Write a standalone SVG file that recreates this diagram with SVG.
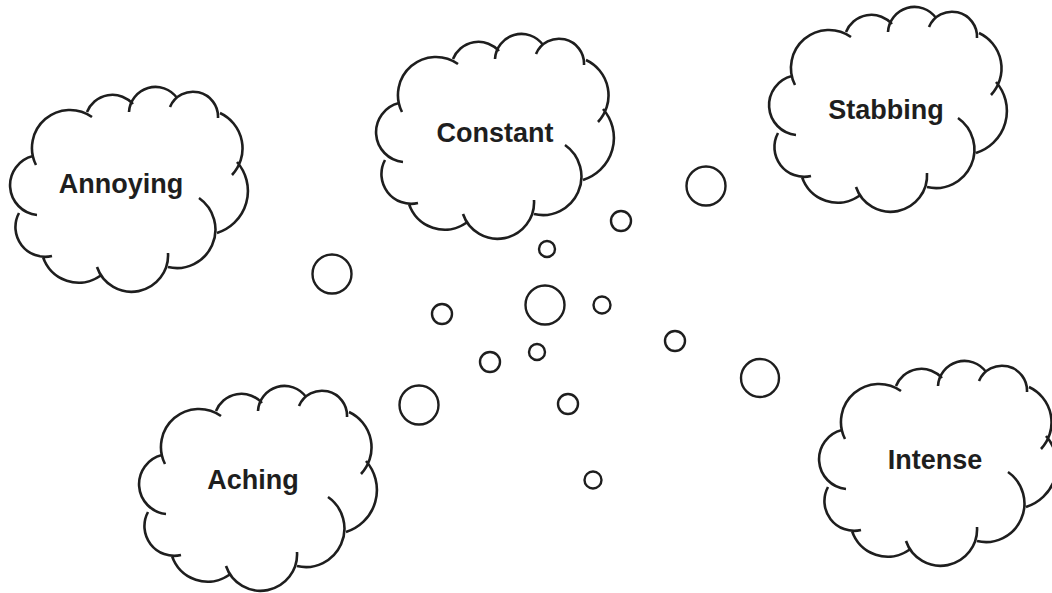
<svg xmlns="http://www.w3.org/2000/svg" width="1052" height="593" viewBox="0 0 1052 593">
<style>
.cl{fill:none;stroke:#1e1e1e;stroke-width:2.6;stroke-linecap:butt}
.bub{fill:none;stroke:#1e1e1e;stroke-width:2.4}
.lbl{font-family:"Liberation Sans",Arial,sans-serif;font-weight:bold;font-size:27px;fill:#1e1e1e;text-anchor:middle}
</style>
<defs>
<path id="cloud" class="cl" d="M36,165 A38,38 0 0 1 92,117 M87,112 A27.5,27.5 0 0 1 133,104 M129,112 A26.5,26.5 0 0 1 177,98 M170,107 A25,25 0 0 1 218,118 M220,113 A39,39 0 0 1 232,175 M237,162 A44,44 0 0 1 217,233 M199,198 A38.5,38.5 0 0 1 168,267 M168,253 A36.5,36.5 0 0 1 97,267 M100,276 A37.5,37.5 0 0 1 43,257 M52,256 A29.7,29.7 0 0 1 19,213 M37,215 A30,30 0 0 1 33,156"/>
</defs>
<rect width="1052" height="593" fill="#ffffff"/>
<g id="annoying">
<use href="#cloud"/>
<text class="lbl" x="121" y="193">Annoying</text>
</g>
<g id="constant">
<use href="#cloud" transform="translate(366,-53)"/>
<text class="lbl" x="495" y="142">Constant</text>
</g>
<g id="stabbing">
<use href="#cloud" transform="translate(759,-80)"/>
<text class="lbl" x="886" y="119">Stabbing</text>
</g>
<g id="aching">
<use href="#cloud" transform="translate(129,299)"/>
<text class="lbl" x="253" y="489">Aching</text>
</g>
<g id="intense">
<use href="#cloud" transform="translate(809,274)"/>
<text class="lbl" x="935" y="469">Intense</text>
</g>
<g id="connectors">
<circle class="bub" cx="706" cy="186" r="19.5"/>
<circle class="bub" cx="621" cy="221" r="10"/>
<circle class="bub" cx="547" cy="249" r="8"/>
<circle class="bub" cx="332" cy="274" r="19.5"/>
<circle class="bub" cx="545" cy="305" r="19.5"/>
<circle class="bub" cx="602" cy="305" r="8.5"/>
<circle class="bub" cx="442" cy="314" r="10"/>
<circle class="bub" cx="675" cy="341" r="10"/>
<circle class="bub" cx="537" cy="352" r="8"/>
<circle class="bub" cx="490" cy="362" r="10"/>
<circle class="bub" cx="419" cy="405" r="19.5"/>
<circle class="bub" cx="568" cy="404" r="10"/>
<circle class="bub" cx="593" cy="480" r="8.5"/>
<circle class="bub" cx="760" cy="378" r="19"/>
</g>
</svg>
